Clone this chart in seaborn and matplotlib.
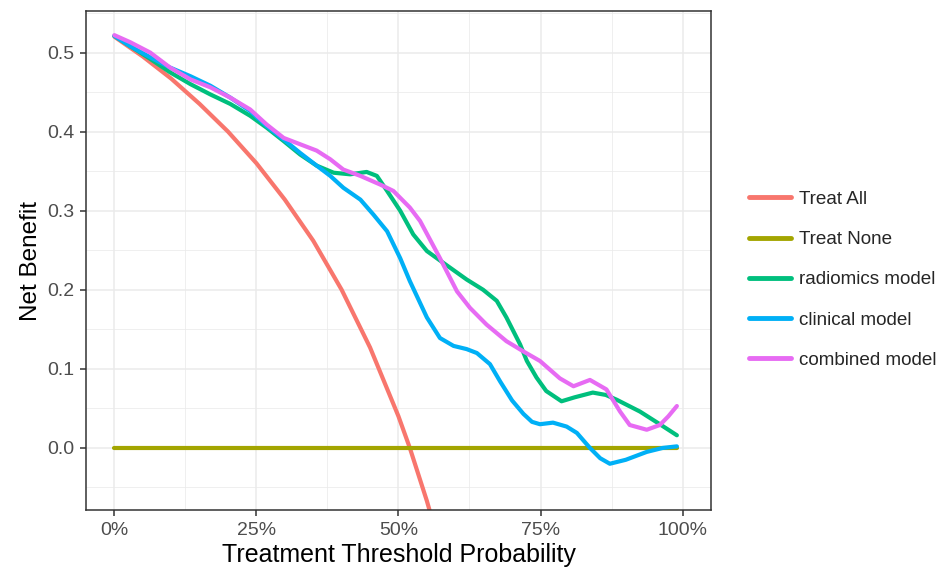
import numpy as np
import pandas as pd
import matplotlib
matplotlib.use("Agg")
import matplotlib.pyplot as plt
import seaborn as sns
from matplotlib.ticker import FuncFormatter, MultipleLocator

# values
treat_all_x = [0.0, 0.05, 0.10, 0.15, 0.20, 0.25, 0.30, 0.35, 0.40, 0.45, 0.50, 0.52, 0.55, 0.57]
treat_all_y = [0.520, 0.495, 0.467, 0.435, 0.400, 0.360, 0.314, 0.262, 0.200, 0.127, 0.040, 0.000, -0.067, -0.117]

treat_none_x = [0.0, 0.99]
treat_none_y = [0.0, 0.0]

radiomics_x = [0.0, 0.028, 0.063, 0.098, 0.134, 0.169, 0.204, 0.239, 0.268, 0.298, 0.327, 0.356,
               0.386, 0.415, 0.444, 0.462, 0.48, 0.503, 0.526, 0.55, 0.579, 0.62, 0.649, 0.673,
               0.69, 0.714, 0.726, 0.743, 0.76, 0.787, 0.81, 0.842, 0.865, 0.884, 0.925, 0.96, 0.99]
radiomics_y = [0.521, 0.508, 0.492, 0.475, 0.46, 0.447, 0.435, 0.42, 0.405, 0.388, 0.371, 0.357,
               0.348, 0.346, 0.349, 0.344, 0.325, 0.30, 0.27, 0.249, 0.234, 0.213, 0.20, 0.186,
               0.165, 0.131, 0.11, 0.089, 0.072, 0.059, 0.064, 0.070, 0.067, 0.061, 0.046, 0.03, 0.016]

clinical_x = [0.0, 0.028, 0.063, 0.098, 0.134, 0.169, 0.204, 0.239, 0.268, 0.298, 0.327, 0.356,
              0.38, 0.403, 0.433, 0.456, 0.48, 0.503, 0.52, 0.55, 0.573, 0.597, 0.62, 0.638,
              0.661, 0.679, 0.70, 0.72, 0.735, 0.749, 0.772, 0.796, 0.814, 0.837, 0.855, 0.872,
              0.90, 0.937, 0.965, 0.99]
clinical_y = [0.521, 0.508, 0.494, 0.481, 0.47, 0.458, 0.443, 0.426, 0.407, 0.39, 0.373, 0.357,
              0.344, 0.329, 0.314, 0.295, 0.274, 0.24, 0.211, 0.165, 0.139, 0.129, 0.125, 0.12,
              0.106, 0.084, 0.06, 0.043, 0.033, 0.030, 0.032, 0.027, 0.019, 0.0, -0.013, -0.020,
              -0.015, -0.005, 0.0, 0.002]

combined_x = [0.0, 0.028, 0.063, 0.098, 0.134, 0.169, 0.204, 0.239, 0.268, 0.298, 0.327, 0.356,
              0.38, 0.403, 0.433, 0.468, 0.491, 0.52, 0.538, 0.573, 0.603, 0.626, 0.655, 0.69,
              0.72, 0.749, 0.784, 0.808, 0.837, 0.866, 0.89, 0.907, 0.937, 0.96, 0.975, 0.99]
combined_y = [0.522, 0.513, 0.50, 0.481, 0.466, 0.456, 0.443, 0.428, 0.409, 0.392, 0.384, 0.376,
              0.365, 0.352, 0.344, 0.333, 0.325, 0.304, 0.287, 0.24, 0.198, 0.177, 0.156, 0.135,
              0.122, 0.11, 0.088, 0.078, 0.086, 0.074, 0.046, 0.029, 0.023, 0.029, 0.04, 0.053]

models = ["Treat All", "Treat None", "radiomics model", "clinical model", "combined model"]
colors = ["#F8766D", "#A3A500", "#00BF7D", "#00B0F6", "#E76BF3"]

#%%
frames = []
for name, xs, ys in zip(models,
                        [treat_all_x, treat_none_x, radiomics_x, clinical_x, combined_x],
                        [treat_all_y, treat_none_y, radiomics_y, clinical_y, combined_y]):
    frames.append(pd.DataFrame({"threshold": xs, "net_benefit": ys, "model": name}))
df = pd.concat(frames, ignore_index=True)

sns.set_style("whitegrid")
plt.rcParams["font.family"] = ["Liberation Sans", "DejaVu Sans"]

fig = plt.figure(figsize=(9.51, 5.71), dpi=100)
ax = fig.add_axes([0.0904, 0.1068, 0.6572, 0.8739])

sns.lineplot(data=df, x="threshold", y="net_benefit", hue="model", hue_order=models,
             palette=colors, estimator=None, sort=True, linewidth=3, ax=ax, legend=True)

ax.set_xlim(-0.05, 1.05)
ax.set_ylim(-0.0785, 0.5525)
ax.xaxis.set_major_locator(MultipleLocator(0.25))
ax.xaxis.set_minor_locator(MultipleLocator(0.125))
ax.yaxis.set_major_locator(MultipleLocator(0.1))
ax.yaxis.set_minor_locator(MultipleLocator(0.05))
ax.xaxis.set_major_formatter(FuncFormatter(lambda v, p: f"{v*100:.0f}%"))
ax.yaxis.set_major_formatter(FuncFormatter(lambda v, p: f"{v:.1f}"))

ax.grid(which="major", color="#EBEBEB", linewidth=1.1)
ax.grid(which="minor", color="#EBEBEB", linewidth=0.55)
ax.set_axisbelow(True)
for s in ax.spines.values():
    s.set_color("#333333")
    s.set_linewidth(1.1)
ax.tick_params(which="major", length=4.3, width=1.1, color="#333333",
               labelsize=14, labelcolor="#4D4D4D", pad=4, bottom=True, left=True)
ax.tick_params(which="minor", length=0)

ax.set_xlabel("Treatment Threshold Probability", fontsize=18, color="black", labelpad=3)
ax.set_ylabel("Net Benefit", fontsize=17.5, color="black", labelpad=4)

handles, labels = ax.get_legend_handles_labels()
ax.legend_.remove()
for h in handles:
    h.set_linewidth(3.5)
fig.legend(handles, labels, loc="center left", bbox_to_anchor=(0.77, 0.51),
           frameon=False, fontsize=13.6, handlelength=2.2, handletextpad=0.45,
           labelspacing=1.22)

fig.savefig("out.png", dpi=100)
